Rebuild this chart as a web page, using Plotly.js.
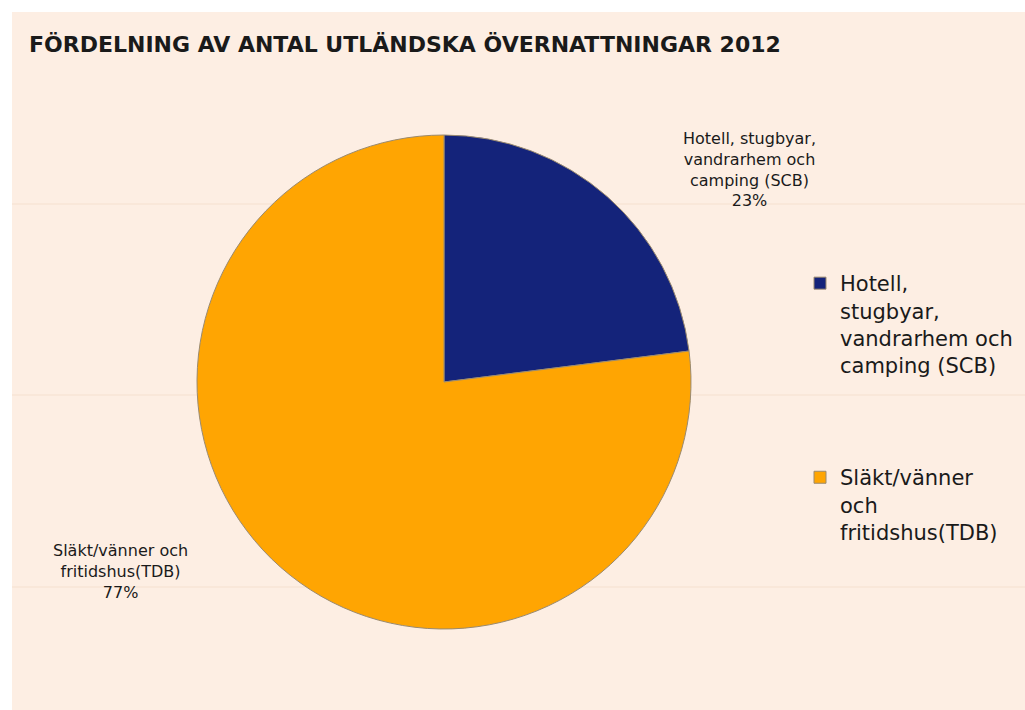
<!DOCTYPE html>
<html>
<head>
<meta charset="utf-8">
<script src="https://cdn.plot.ly/plotly-3.0.1.min.js"></script>
<style>
html,body{margin:0;padding:0;background:#ffffff;}
#chart{position:absolute;left:12px;top:12px;width:1013px;height:698px;}
</style>
</head>
<body>
<div id="chart"></div>
<script>
// Data
const categories = ["Hotell, stugbyar, vandrarhem och camping (SCB)", "Släkt/vänner och fritidshus(TDB)"];
const shares = [23, 77];
const legendLabels = ["Hotell,<br>stugbyar,<br>vandrarhem och<br>camping (SCB)", "Släkt/vänner<br>och<br>fritidshus(TDB)"];
const sliceLabels = ["Hotell, stugbyar,<br>vandrarhem och<br>camping (SCB)", "Släkt/vänner och<br>fritidshus(TDB)"];
const colors = ["#14237a", "#ffa502"];
const titleText = "FÖRDELNING AV ANTAL UTLÄNDSKA ÖVERNATTNINGAR 2012";

const W = 1013, H = 698;
const trace = {
  type: "pie",
  labels: legendLabels.map((l, i) => i === 0 ? l + "<br> <br> <br> " : l),
  values: shares,
  sort: false,
  direction: "clockwise",
  rotation: 0,
  textinfo: "none",
  hoverinfo: "label+percent",
  marker: {colors: colors, line: {color: "#9a8a70", width: 1}},
  domain: {x: [185 / W, 679 / W], y: [(H - 617) / H, (H - 123) / H]}
};

const labelPos = [[737, 157], [108, 559]];
const annotations = sliceLabels.map((t, i) => ({
  xref: "paper", yref: "paper",
  x: labelPos[i][0] / W, y: 1 - labelPos[i][1] / H,
  xanchor: "center", yanchor: "middle",
  text: t + "<br>" + shares[i] + "%",
  showarrow: false,
  align: "center",
  font: {family: "DejaVu Sans", size: 16, color: "#1a1a1a"}
}));

const shapes = [192, 383, 575].map(y => ({
  type: "line", xref: "paper", yref: "paper", layer: "below",
  x0: 0, x1: 1, y0: 1 - y / H, y1: 1 - y / H,
  line: {color: "rgba(235,205,185,0.45)", width: 1}
}));

const layout = {
  width: W, height: H,
  paper_bgcolor: "#fdeee3",
  plot_bgcolor: "#fdeee3",
  margin: {l: 0, r: 0, t: 0, b: 0},
  title: {
    text: "<b>" + titleText + "</b>",
    x: 17 / W, xanchor: "left",
    y: 1 - 32 / H, yanchor: "middle",
    font: {family: "DejaVu Sans", size: 22, color: "#1a1a1a"}
  },
  showlegend: true,
  legend: {
    x: 788 / W, xanchor: "left",
    y: 1 - 251 / H, yanchor: "top",
    valign: "top",
    bgcolor: "rgba(0,0,0,0)",
    font: {family: "DejaVu Sans", size: 21, color: "#1a1a1a"},
    itemwidth: 30
  },
  annotations: annotations,
  shapes: shapes
};

Plotly.newPlot("chart", [trace], layout, {displayModeBar: false, staticPlot: true});
</script>
</body>
</html>
